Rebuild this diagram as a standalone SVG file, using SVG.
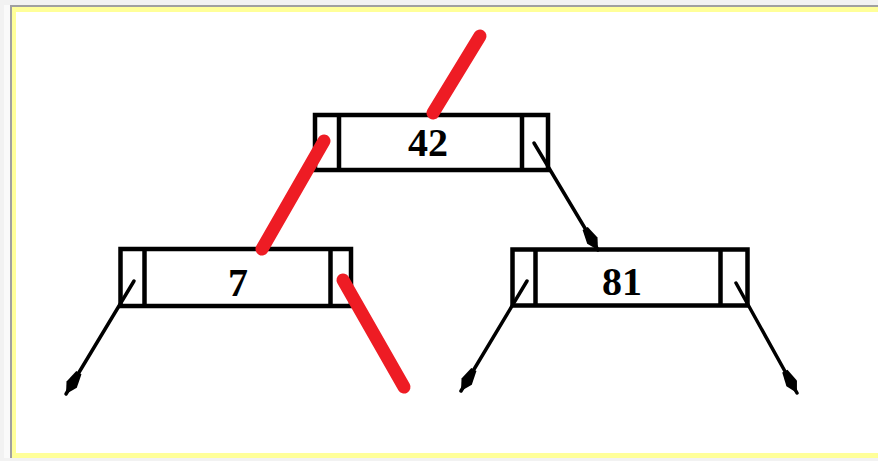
<svg xmlns="http://www.w3.org/2000/svg" width="878" height="461" viewBox="0 0 878 461">
<style>
.box{fill:#fff;stroke:#000;stroke-width:4.5}
.div{stroke:#000;stroke-width:4.5}
.lbl{font-family:"Liberation Serif","Times New Roman",serif;font-weight:bold;font-size:40px;text-anchor:middle;fill:#000}
.ptr{stroke:#000;stroke-width:3.5;fill:none;stroke-linecap:round}
.red{stroke:#ee1c24;stroke-width:13;stroke-linecap:round;fill:none}
</style>
<defs>
<marker id="ah" markerUnits="userSpaceOnUse" viewBox="-26 -8 28 16" refX="0" refY="0" markerWidth="28" markerHeight="16" orient="auto">
<path d="M-25,-3 L-11,-6 L0,0 L-11,6 L-25,3 z" fill="#000"/>
</marker>
</defs>
<rect x="0" y="0" width="878" height="461" fill="#f2f2f2"/>
<rect x="4" y="5" width="874" height="453" fill="#fafafa"/>
<rect x="10" y="5" width="868" height="453" fill="#a0a0a0"/>
<rect x="12" y="7" width="866" height="451" fill="#ffff99"/>
<rect x="16" y="12" width="862" height="441" fill="#fff"/>
<g id="node-42">
<rect class="box" x="315" y="115" width="233" height="55"/>
<line class="div" x1="339" y1="115" x2="339" y2="170"/>
<line class="div" x1="522" y1="115" x2="522" y2="170"/>
<text class="lbl" x="428" y="156">42</text>
</g>
<g id="node-7">
<rect class="box" x="120.5" y="249" width="230.5" height="57"/>
<line class="div" x1="144.5" y1="249" x2="144.5" y2="306"/>
<line class="div" x1="330.5" y1="249" x2="330.5" y2="306"/>
<text class="lbl" x="238" y="296">7</text>
</g>
<g id="node-81">
<rect class="box" x="512.5" y="249.5" width="235" height="56"/>
<line class="div" x1="535.5" y1="249.5" x2="535.5" y2="305.5"/>
<line class="div" x1="720.5" y1="249.5" x2="720.5" y2="305.5"/>
<text class="lbl" x="622" y="295">81</text>
</g>
<g id="connectors">
<line class="ptr" x1="534" y1="143" x2="598" y2="250" marker-end="url(#ah)"/>
<line class="ptr" x1="134" y1="281" x2="66" y2="394" marker-end="url(#ah)"/>
<line class="ptr" x1="527" y1="281" x2="461" y2="391" marker-end="url(#ah)"/>
<line class="ptr" x1="736" y1="283" x2="797" y2="393" marker-end="url(#ah)"/>
<line class="red" x1="480" y1="36" x2="433" y2="113"/>
<line class="red" x1="324" y1="141" x2="262" y2="249"/>
<line class="red" x1="343" y1="280" x2="404" y2="387"/>
</g>
</svg>
